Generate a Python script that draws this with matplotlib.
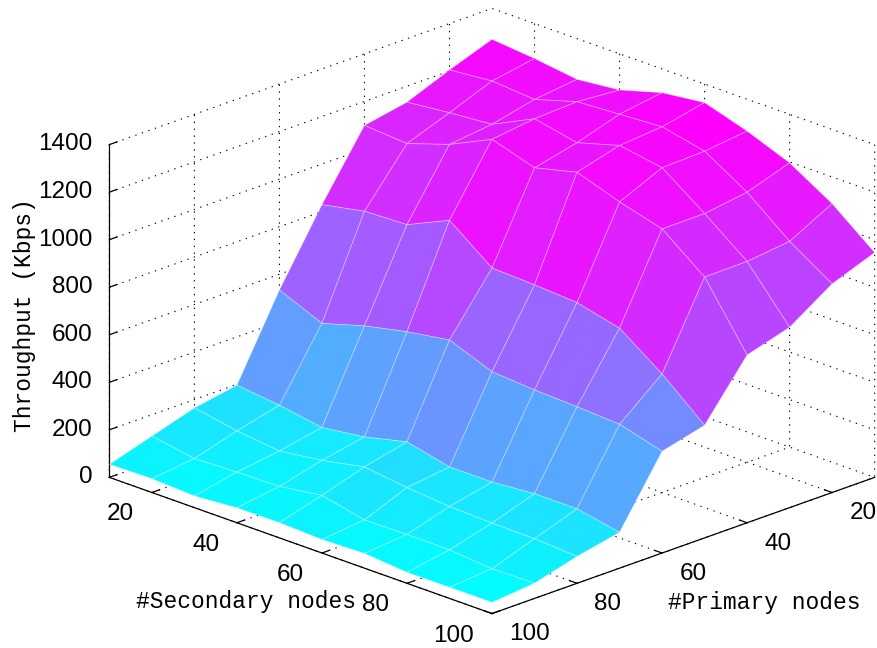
import numpy as np
import matplotlib
matplotlib.use("Agg")
import matplotlib.pyplot as plt
from matplotlib import colors
from mpl_toolkits.mplot3d import proj3d

# axes values
primary = [10, 20, 30, 40, 50, 60, 70, 80, 90, 100]
secondary = [10, 20, 30, 40, 50, 60, 70, 80, 90, 100]

# throughput (Kbps), one list per primary node count, across secondary nodes
tp_p10 = [1270, 1253, 1229, 1248, 1300, 1322, 1266, 1196, 1088, 946]
tp_p20 = [1205, 1222, 1208, 1262, 1273, 1284, 1245, 1136, 993, 878]
tp_p30 = [1133, 1152, 1167, 1254, 1217, 1269, 1239, 1110, 972, 759]
tp_p40 = [1099, 1086, 1146, 1231, 1175, 1220, 1159, 1109, 970, 706]
tp_p50 = [829, 865, 872, 954, 817, 810, 799, 755, 626, 474]
tp_p60 = [534, 457, 510, 549, 578, 508, 495, 488, 478, 428]
tp_p70 = [197, 176, 146, 170, 213, 171, 171, 186, 186, 151]
tp_p80 = [165, 132, 111, 135, 171, 148, 132, 126, 124, 113]
tp_p90 = [110, 79, 86, 89, 115, 76, 78, 77, 61, 64]
tp_p100 = [55, 58, 49, 63, 64, 57, 62, 46, 47, 47]

z_ticks = [0, 200, 400, 600, 800, 1000, 1200, 1400]
xy_ticks = [20, 40, 60, 80, 100]

throughput = np.array([tp_p10, tp_p20, tp_p30, tp_p40, tp_p50,
                       tp_p60, tp_p70, tp_p80, tp_p90, tp_p100], dtype=float)

plt.rcParams['font.family'] = ['Liberation Sans', 'DejaVu Sans']

W, H = 877, 648
S = 900.0
zoom = 819.4 / S
cx, cy = 492.0, 337.0
left = cx - 0.5135 * S
bottom = cy - 0.5135 * S

fig = plt.figure(figsize=(W / 100, H / 100), dpi=100)
ax = fig.add_axes([left / W, bottom / H, S / W, S / H], projection='3d')

P, Sg = np.meshgrid(primary, secondary, indexing='ij')
norm = colors.Normalize(throughput.min(), throughput.max())
fc = plt.cm.cool(norm(throughput))

ax.plot_surface(P, Sg, throughput, facecolors=fc, shade=False,
                rstride=1, cstride=1, edgecolor=(1, 1, 1, 0.35),
                linewidth=0.6, antialiased=True)

ax.set_proj_type('ortho')
ax.view_init(elev=20.85, azim=45)
ax.set_box_aspect((1, 1, 0.658), zoom=zoom)

ax.set_xlim(10, 100)
ax.set_ylim(10, 100)
ax.set_zlim(0, 1400)
ax.set_xticks(xy_ticks)
ax.set_yticks(xy_ticks)
ax.set_zticks(z_ticks)

for axis in (ax.xaxis, ax.yaxis, ax.zaxis):
    axis.set_pane_color((1, 1, 1, 0))
    axis.line.set_color('k')
    axis.line.set_linewidth(0.9)
    # mpl's own labels are hidden, the ones below are placed MATLAB-like
    axis.set_tick_params(label1On=False, label2On=False)
    axis.label.set_visible(False)
    axis.offsetText.set_visible(False)
    axis._axinfo['grid']['linestyle'] = (0, (1.2, 5))
    axis._axinfo['grid']['color'] = 'k'
    axis._axinfo['grid']['linewidth'] = 0.8
    axis._axinfo['tick']['inward_factor'] = 0.0
    axis._axinfo['tick']['outward_factor'] = 0.25
    axis._axinfo['tick']['linewidth'] = {True: 0.9, False: 0.5}

# tick labels: project the 3D anchor once and put plain 2D text there
M = ax.get_proj()


def label_at(x, y, z, txt, ha):
    x2, y2, _ = proj3d.proj_transform(x, y, z, M)
    ax.text2D(x2, y2, txt, transform=ax.transData, ha=ha, va='center',
              fontsize=17.5, clip_on=False)


pmax, smin = max(primary), min(secondary)
smax = max(secondary)
for s in xy_ticks:
    label_at(pmax + 4.15, s, -66, str(s), 'right')
for p in xy_ticks:
    label_at(p, smax + 4.1, -62, str(p), 'left')
for z in z_ticks:
    label_at(pmax + 4.0, smin, z + 26, str(z), 'right')

fig.text(0.028, 0.514, 'Throughput (Kbps)', rotation=90, ha='center',
         va='center', fontsize=16.5, family='Liberation Mono')
fig.text(0.281, 0.0715, '#Secondary nodes', ha='center', va='center',
         fontsize=16.5, family='Liberation Mono')
fig.text(0.8717, 0.070, '#Primary nodes', ha='center', va='center',
         fontsize=16.5, family='Liberation Mono')

fig.savefig('out.png', dpi=100)
